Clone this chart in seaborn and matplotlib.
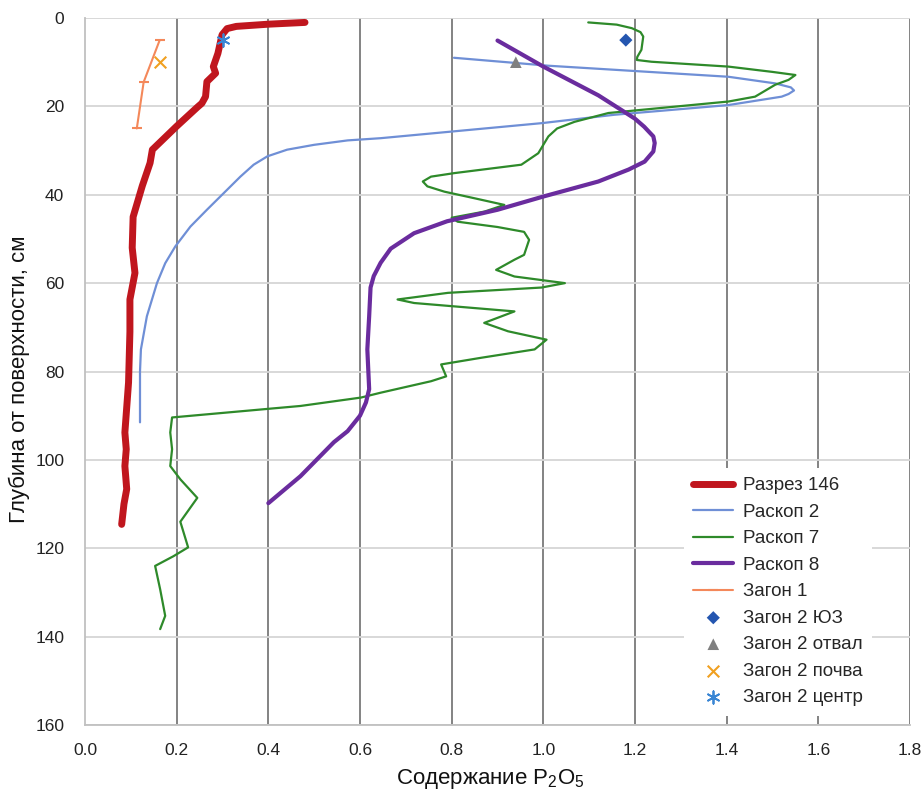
import matplotlib
matplotlib.use("Agg")
import matplotlib.pyplot as plt
import seaborn as sns
import pandas as pd

# ---------------- data ----------------
razrez146_x = [0.48, 0.40, 0.33, 0.31, 0.299, 0.29, 0.28, 0.285, 0.266, 0.263, 0.255, 0.245, 0.20, 0.147,
               0.142, 0.125, 0.105, 0.103, 0.109, 0.098, 0.098, 0.095, 0.087, 0.09, 0.087, 0.091, 0.085, 0.08]
razrez146_y = [1.0, 1.4, 1.9, 2.4, 3.8, 8.0, 11.0, 12.5, 14.4, 17.8, 19.3, 20.2, 24.5, 29.8,
               32.8, 38.0, 45.0, 52.0, 57.7, 63.7, 71.0, 82.5, 93.8, 97.6, 101.4, 106.6, 110.0, 114.6]

raskop2_x = [0.805, 1.011, 1.404, 1.506, 1.54, 1.547, 1.535, 1.52, 1.404, 1.155, 0.996, 0.645, 0.573,
             0.50, 0.441, 0.398, 0.368, 0.339, 0.303, 0.266, 0.23, 0.197, 0.175, 0.157, 0.135, 0.122,
             0.12, 0.12]
raskop2_y = [9.0, 10.8, 13.3, 14.8, 15.7, 16.4, 17.2, 17.8, 19.7, 21.9, 23.8, 27.2, 27.7,
             28.7, 29.8, 31.3, 33.2, 35.9, 39.6, 43.4, 47.2, 51.7, 55.5, 60.0, 67.5, 75.0,
             80.0, 91.5]

raskop7_x = [1.098, 1.16, 1.193, 1.212, 1.218, 1.214, 1.205, 1.204, 1.236, 1.404, 1.50, 1.55, 1.535,
             1.506, 1.462, 1.404, 1.142, 1.068, 1.03, 1.011, 0.989, 0.952, 0.806, 0.755, 0.737, 0.747,
             0.784, 0.85, 0.915, 0.872, 0.80, 0.813, 0.90, 0.958, 0.969, 0.958, 0.937, 0.897, 0.937,
             1.047, 0.996, 0.792, 0.682, 0.718, 0.937, 0.871, 0.923, 1.007, 0.981, 0.864, 0.777, 0.788,
             0.755, 0.645, 0.602, 0.47, 0.405, 0.19, 0.186, 0.19, 0.186, 0.208, 0.245, 0.208, 0.225,
             0.193, 0.153, 0.164, 0.175, 0.164]
raskop7_y = [1.0, 1.5, 2.3, 3.2, 4.2, 7.2, 8.8, 9.5, 9.9, 11.0, 12.2, 12.9, 14.0,
             15.1, 17.8, 18.9, 21.5, 23.5, 25.0, 26.8, 30.6, 33.2, 35.1, 35.9, 37.0, 38.1,
             39.3, 40.8, 42.3, 43.8, 45.2, 46.1, 47.3, 48.4, 50.2, 53.6, 54.7, 57.0, 58.5,
             60.0, 61.0, 62.2, 63.7, 64.5, 66.4, 69.0, 70.9, 72.8, 75.0, 76.9, 78.4, 81.1,
             82.2, 84.8, 85.9, 87.8, 88.4, 90.4, 93.8, 97.6, 101.4, 104.4, 108.6, 114.0, 119.8,
             121.8, 124.0, 129.3, 135.3, 138.3]

raskop8_x = [0.90, 1.0, 1.12, 1.17, 1.20, 1.22, 1.24, 1.243, 1.24, 1.221, 1.186, 1.12, 1.0, 0.90, 0.79,
             0.718, 0.667, 0.645, 0.63, 0.623, 0.62, 0.616, 0.62, 0.613, 0.60, 0.573, 0.543, 0.47, 0.40]
raskop8_y = [5.1, 11.0, 17.5, 20.8, 22.8, 24.6, 26.8, 28.3, 30.2, 32.5, 34.3, 37.0, 40.4, 43.4, 46.0,
             48.7, 52.2, 55.4, 58.4, 61.0, 67.5, 75.0, 84.0, 87.0, 90.0, 93.5, 96.0, 103.7, 109.8]

zagon1_x = [0.163, 0.128, 0.113]
zagon1_y = [5.0, 14.5, 25.0]

zagon2_yuz_x, zagon2_yuz_y = [1.18], [5.0]
zagon2_otval_x, zagon2_otval_y = [0.94], [10.0]
zagon2_pochva_x, zagon2_pochva_y = [0.163], [10.0]
zagon2_centr_x, zagon2_centr_y = [0.30], [5.0]

x_ticks = [0.0, 0.2, 0.4, 0.6, 0.8, 1.0, 1.2, 1.4, 1.6, 1.8]
y_ticks = [0, 20, 40, 60, 80, 100, 120, 140, 160]

# ---------------- style ----------------
sns.set_style("white")
plt.rcParams['font.family'] = ['Liberation Sans', 'DejaVu Sans']
plt.rcParams['mathtext.fontset'] = 'custom'
plt.rcParams['mathtext.rm'] = 'Liberation Sans'

fig = plt.figure(figsize=(9.24, 7.94), dpi=100)
ax = fig.add_axes([85 / 924, 1 - 725 / 794, 825 / 924, 707 / 794])

c_red = '#C0161E'
c_blue = '#6F8FD6'
c_green = '#2E8A2A'
c_purple = '#6A2C9E'
c_orange = '#F4885A'

def line(x, y, color, lw, label, **kw):
    df = pd.DataFrame({'x': x, 'y': y})
    sns.lineplot(data=df, x='x', y='y', sort=False, estimator=None, color=color,
                 linewidth=lw, ax=ax, label=label, zorder=3, solid_capstyle='round',
                 solid_joinstyle='round', **kw)

line(raskop2_x, raskop2_y, c_blue, 1.6, 'Раскоп 2')
line(raskop7_x, raskop7_y, c_green, 1.6, 'Раскоп 7')
line(raskop8_x, raskop8_y, c_purple, 3.0, 'Раскоп 8')
line(razrez146_x, razrez146_y, c_red, 5.0, 'Разрез 146')
line(zagon1_x, zagon1_y, c_orange, 1.5, 'Загон 1', marker='_', markersize=7,
     markeredgewidth=1.5, markeredgecolor=c_orange)

sns.scatterplot(x=zagon2_yuz_x, y=zagon2_yuz_y, marker='D', s=45, color='#2456B0',
                edgecolor='none', ax=ax, zorder=4, label='Загон 2 ЮЗ')
sns.scatterplot(x=zagon2_otval_x, y=zagon2_otval_y, marker='^', s=70, color='#808080',
                edgecolor='none', ax=ax, zorder=4, label='Загон 2 отвал')
sns.scatterplot(x=zagon2_pochva_x, y=zagon2_pochva_y, marker='x', s=70, color='#F0A020',
                linewidth=1.5, ax=ax, zorder=4, label='Загон 2 почва')
sns.scatterplot(x=zagon2_centr_x, y=zagon2_centr_y, marker=(6, 2, 0), s=80, color='#3A86D4',
                linewidth=1.3, ax=ax, zorder=5, label='Загон 2 центр')

ax.set_xlim(0, 1.8)
ax.set_ylim(160, 0)
ax.set_xticks(x_ticks)
ax.set_xticklabels([f'{v:.1f}' for v in x_ticks])
ax.set_yticks(y_ticks)
ax.set_yticklabels([str(v) for v in y_ticks])
ax.tick_params(axis='both', length=0, labelsize=12.5, colors='#222222')
ax.tick_params(axis='x', pad=13)
ax.tick_params(axis='y', pad=15)

ax.set_axisbelow(True)
ax.xaxis.grid(True, color='#7a7a7a', linewidth=1.3)
ax.yaxis.grid(True, color='#d6d6d6', linewidth=1.3)
ax.get_xgridlines()[0].set_visible(False)
for s in ['top', 'right']:
    ax.spines[s].set_visible(False)
for s in ['left', 'bottom']:
    ax.spines[s].set_color('#c0c0c0')
    ax.spines[s].set_linewidth(1.3)

ax.set_xlabel(r'Содержание P$_\mathregular{2}$O$_\mathregular{5}$', fontsize=16, color='#111111')
ax.set_ylabel('Глубина от поверхности, см', fontsize=16, color='#111111')
ax.xaxis.set_label_coords(0.491, -0.06)
ax.yaxis.set_label_coords(-0.067, 0.489)

order = ['Разрез 146', 'Раскоп 2', 'Раскоп 7', 'Раскоп 8', 'Загон 1',
         'Загон 2 ЮЗ', 'Загон 2 отвал', 'Загон 2 почва', 'Загон 2 центр']
handles, labels = ax.get_legend_handles_labels()
hmap = dict(zip(labels, handles))
leg = ax.legend([hmap[l] for l in order], order, loc='upper left', bbox_to_anchor=(0.726, 0.364),
                frameon=True, facecolor='white', edgecolor='none', framealpha=1, fancybox=False,
                fontsize=13.5, handlelength=2.13, labelspacing=0.5, handletextpad=0.53,
                borderpad=0.5, borderaxespad=0)
leg.set_zorder(10)

fig.savefig('out.png', dpi=100)
